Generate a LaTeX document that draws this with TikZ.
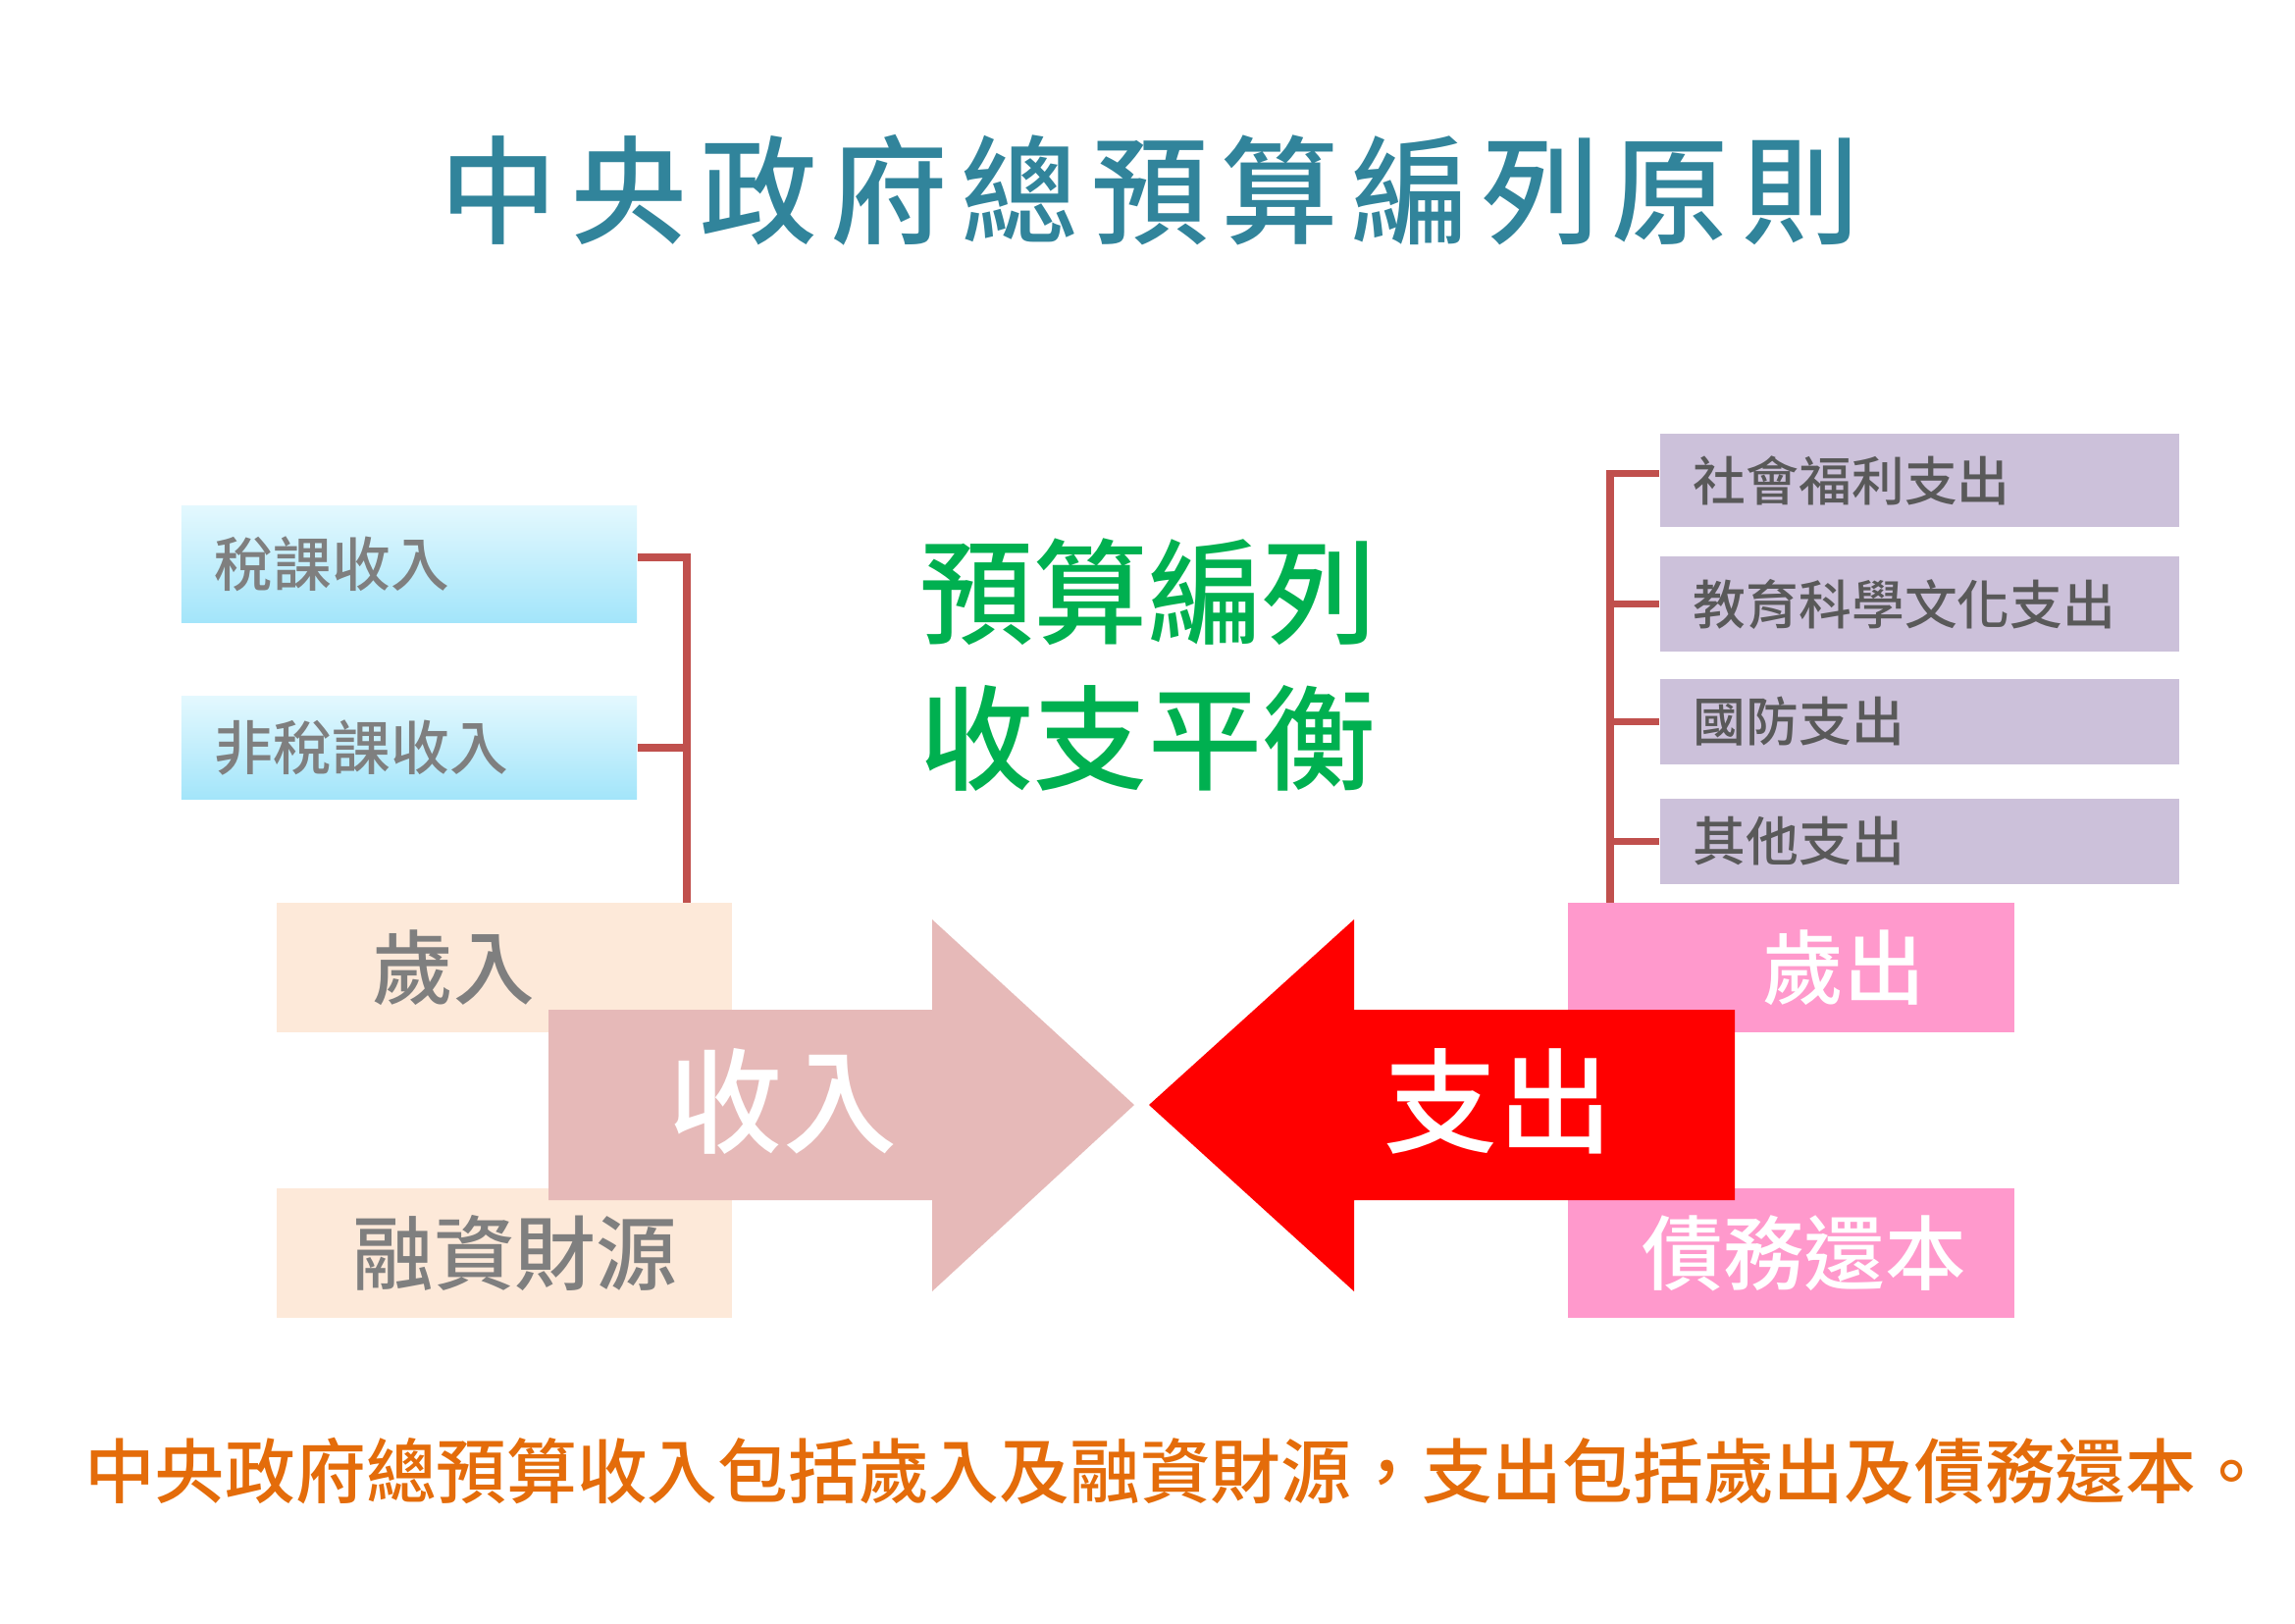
\documentclass[tikz,border=0pt]{standalone}
\usepackage{fontspec}
\setmainfont{Noto Sans CJK TC}
\IfFontExistsTF{Noto Sans CJK TC Medium}{\newfontfamily\cjkw{Noto Sans CJK TC Medium}}{\newcommand\cjkw{\bfseries}}
\definecolor{Teal}{HTML}{31849B}
\definecolor{BrRed}{HTML}{C0504D}
\definecolor{BlueTop}{HTML}{E3F8FE}
\definecolor{BlueBot}{HTML}{A3E5FA}
\definecolor{GrayA}{HTML}{7F7F7F}
\definecolor{GrayB}{HTML}{595959}
\definecolor{Peach}{HTML}{FDE9D9}
\definecolor{PinkA}{HTML}{E6B9B8}
\definecolor{RedA}{HTML}{FF0000}
\definecolor{PinkB}{HTML}{FF99CC}
\definecolor{Purp}{HTML}{CCC1DA}
\definecolor{GreenA}{HTML}{00B050}
\definecolor{OrangeA}{HTML}{E46C0A}
\tikzset{
  bluebox/.style={rectangle, top color=BlueTop, bottom color=BlueBot, draw=none,
    minimum width=4.64cm, text width=3.96cm, inner xsep=0.34cm, inner ysep=0pt,
    align=left, text=GrayA, font=\fontsize{17}{20}\selectfont\cjkw},
  purplebox/.style={rectangle, fill=Purp, minimum width=5.29cm, text width=4.61cm,
    inner xsep=0.34cm, inner ysep=0pt, align=left, text=GrayB,
    font=\fontsize{15.3}{18}\selectfont\cjkw},
  peachbox/.style={rectangle, fill=Peach, minimum width=4.64cm, minimum height=1.32cm,
    inner ysep=0pt, text=GrayA, font=\fontsize{23.5}{28}\selectfont\cjkw},
  pinkbox/.style={rectangle, fill=PinkB, minimum width=4.55cm, minimum height=1.32cm,
    inner ysep=0pt, text=white, font=\fontsize{23.5}{28}\selectfont\cjkw},
  bracket/.style={draw=BrRed, line width=2.2pt},
  arrowtxt/.style={text=white, inner sep=0pt, font=\fontsize{33}{40}\selectfont\cjkw},
}
\begin{document}
\begin{tikzpicture}[x=0.01cm, y=-0.01cm]
\useasboundingbox[fill=white] (0,0) rectangle (2339,1654);

% title
\node[text=Teal, inner sep=0pt, font=\fontsize{34}{40}\selectfont\cjkw\addfontfeatures{LetterSpace=11}] (title) at (1172,194) {中央政府總預算編列原則};

% revenue sources
\node[bluebox, minimum height=1.18cm] (tax) at (417,575) {稅課收入};
\node[bluebox, minimum height=1.04cm] (nontax) at (417,762) {非稅課收入};

% expenditure items
\node[purplebox, minimum height=0.95cm] (soc) at (1956.5,489.5) {社會福利支出};
\node[purplebox, minimum height=0.97cm] (edu) at (1956.5,615.5) {教育科學文化支出};
\node[purplebox, minimum height=0.87cm] (def) at (1956.5,735.5) {國防支出};
\node[purplebox, minimum height=0.87cm] (oth) at (1956.5,857.5) {其他支出};

% brackets
\coordinate (lbot) at (700,920);
\coordinate (rbot) at (1641,920);
\draw[bracket] ([yshift=0.07cm]tax.east) -| (lbot);
\draw[bracket] (nontax.east) -- (nontax.east -| lbot);
\draw[bracket] ([yshift=0.07cm]soc.west) -| (rbot);
\draw[bracket] (edu.west) -- (edu.west -| rbot);
\draw[bracket] (def.west) -- (def.west -| rbot);
\draw[bracket] (oth.west) -- (oth.west -| rbot);

% centre text
\node[text=GreenA, align=center, inner sep=0pt, font=\fontsize{33}{42.4}\selectfont\cjkw] (bal) at (1170,678) {預算編列\\收支平衡};

% boxes
\node[peachbox, text width=2.68cm, inner xsep=0.98cm, align=left] (sr) at (514,986) {歲入};
\node[peachbox, text width=3.52cm, inner xsep=0.56cm, align=right] (rz) at (514,1277) {融資財源};
\node[pinkbox, text width=2.73cm, inner xsep=0.91cm, align=right] (sc) at (1825.5,986) {歲出};
\node[pinkbox, text width=3.57cm, inner xsep=0.49cm, align=right] (zw) at (1825.5,1277) {債務還本};

% arrows
\fill[PinkA] (559,1029) -- (950,1029) -- (950,937) -- (1156,1126) -- (950,1316) -- (950,1223) -- (559,1223) -- cycle;
\fill[RedA] (1768,1029) -- (1380,1029) -- (1380,937) -- (1171,1126) -- (1380,1316) -- (1380,1223) -- (1768,1223) -- cycle;
\node[arrowtxt] (inc) at (798,1122) {收入};
\node[arrowtxt] (exp) at (1527,1122) {支出};

% bottom sentence
\node[text=OrangeA, inner sep=0pt, font=\fontsize{20.4}{24}\selectfont\cjkw] (note) at (1198,1499) {中央政府總預算收入包括歲入及融資財源，支出包括歲出及債務還本。};
\end{tikzpicture}
\end{document}
